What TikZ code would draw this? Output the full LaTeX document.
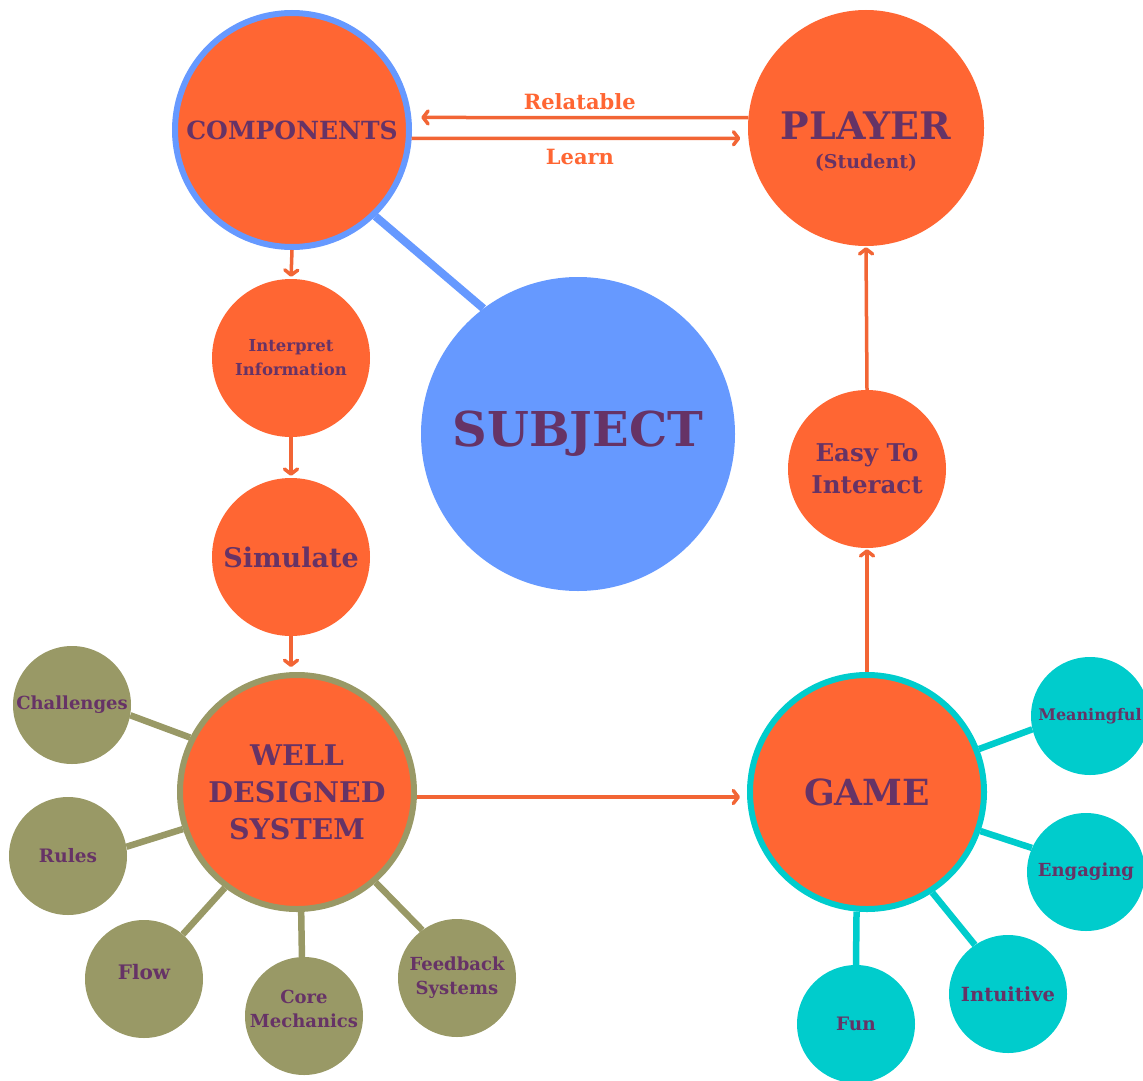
\documentclass[tikz,border=0pt]{standalone}
\usepackage{fontspec}
\setmainfont{DejaVu Serif}
\usetikzlibrary{arrows.meta,backgrounds}
\definecolor{orng}{HTML}{FF6633}
\definecolor{arrc}{HTML}{F26535}
\definecolor{blu}{HTML}{6699FF}
\definecolor{olv}{HTML}{999966}
\definecolor{tealc}{HTML}{00CCCC}
\definecolor{purp}{HTML}{663366}
\newcommand\fsz[2]{\fontsize{#1}{#2}\selectfont}
\begin{document}
\begin{tikzpicture}[x=1pt,y=-1pt,
  disc/.style={circle,inner sep=0pt,align=center,text=purp},
  hub/.style={disc,fill=orng},
  ring/.style={draw=#1,line width=6pt},
  sat/.style={disc,minimum size=118pt,font=\bfseries\fsz{18}{24}},
  mid/.style={hub,minimum size=158pt},
  big/.style={hub,minimum size=234pt},
  spoke/.style={draw=#1,line width=6.5pt},
  arrowc/.style={draw=arrc,line width=3.5pt,-{Straight Barb[length=5pt,width=13pt,round]}},
  lbl/.style={text=orng,font=\bfseries\fsz{21}{24},inner sep=0pt},
]
\useasboundingbox (0,0) rectangle (1143,1081);

% main hubs
\node[big,ring=blu,font=\bfseries\fsz{25}{30}] (comp) at (292,130) {COMPONENTS};
\node[hub,minimum size=236pt] (player) at (866,128) {};
\node[disc,font=\bfseries\fsz{38}{44}] (player-title) at (866,126) {PLAYER};
\node[disc,font=\bfseries\fsz{19}{22}] (player-sub) at (866,163) {(Student)};
\node[disc,fill=blu,minimum size=314pt,font=\bfseries\fsz{48}{54}] (subj) at (578,434) {SUBJECT};

% chain of steps
\node[mid,font=\bfseries\fsz{16.5}{24}] (interp) at (291,358) {Interpret\\Information};
\node[mid,font=\bfseries\fsz{27}{30}] (sim) at (291,557) {Simulate};
\node[mid,font=\bfseries\fsz{24.5}{32}] (easy) at (867,469) {Easy To\\Interact};

\node[big,ring=olv,font=\bfseries\fsz{28.5}{37}] (wds) at (297,792) {WELL\\DESIGNED\\SYSTEM};
\node[big,ring=tealc,font=\bfseries\fsz{36}{40}] (game) at (867,792) {GAME};

% system elements
\node[sat,fill=olv] (chal) at (72,705) {Challenges};
\node[sat,fill=olv,font=\bfseries\fsz{18.5}{24}] (rules) at (68,856) {Rules};
\node[sat,fill=olv] (flow) at (144,979) {};
\node[disc,font=\bfseries\fsz{20}{24}] (flow-t) at (144,972) {Flow};
\node[sat,fill=olv] (core) at (304,1016) {};
\node[disc,font=\bfseries\fsz{18}{24}] (core-t) at (304,1009) {Core\\Mechanics};
\node[sat,fill=olv] (fback) at (457,978) {Feedback\\Systems};

% game qualities
\node[sat,fill=tealc,font=\bfseries\fsz{16}{24}] (mean) at (1090,716) {Meaningful};
\node[sat,fill=tealc] (eng) at (1086,872) {Engaging};
\node[sat,fill=tealc,font=\bfseries\fsz{19.5}{24}] (intu) at (1008,994) {Intuitive};
\node[sat,fill=tealc,font=\bfseries\fsz{18.5}{24}] (fun) at (856,1024) {Fun};

\begin{scope}[on background layer]
  \draw[spoke=blu,line width=8pt] (comp.-46) -- (subj.127);
  \draw[spoke=olv] (chal.-10) -- (wds.153);
  \draw[spoke=olv] (rules.9.6) -- (wds.198);
  \draw[spoke=olv] (flow.49) -- (wds.233);
  \draw[spoke=olv] (core.92) -- (wds.-88);
  \draw[spoke=olv] (fback.126) -- (wds.-49);
  \draw[spoke=tealc] (mean.193.6) -- (game.21.7);
  \draw[spoke=tealc] (eng.156) -- (game.-19.6);
  \draw[spoke=tealc] (intu.124.5) -- (game.-57.8);
  \draw[spoke=tealc] (fun.90) -- (game.-95);
\end{scope}

% flow of the design process
\draw[arrowc,shorten >=10pt] (player.175) -- (comp.6)
  node[midway,above=6pt,lbl] (rel) {Relatable};
\draw[arrowc,shorten >=8pt] (comp.-4.4) -- (player.185.3)
  node[midway,below=9pt,lbl] (learn) {Learn};
\draw[arrowc,shorten >=2pt] (comp.south) -- (interp.north);
\draw[arrowc,shorten >=2pt] (interp.south) -- (sim.north);
\draw[arrowc,shorten >=5pt] (sim.south) -- (sim.south |- wds.north);
\draw[arrowc,shorten >=7pt] ([yshift=-5pt]wds.east) -- ([yshift=-5pt]game.west);
\draw[arrowc,shorten >=1pt] (game.north) -- (easy.south);
\draw[arrowc,shorten >=1pt] (easy.north) -- (player.south);
\end{tikzpicture}
\end{document}
